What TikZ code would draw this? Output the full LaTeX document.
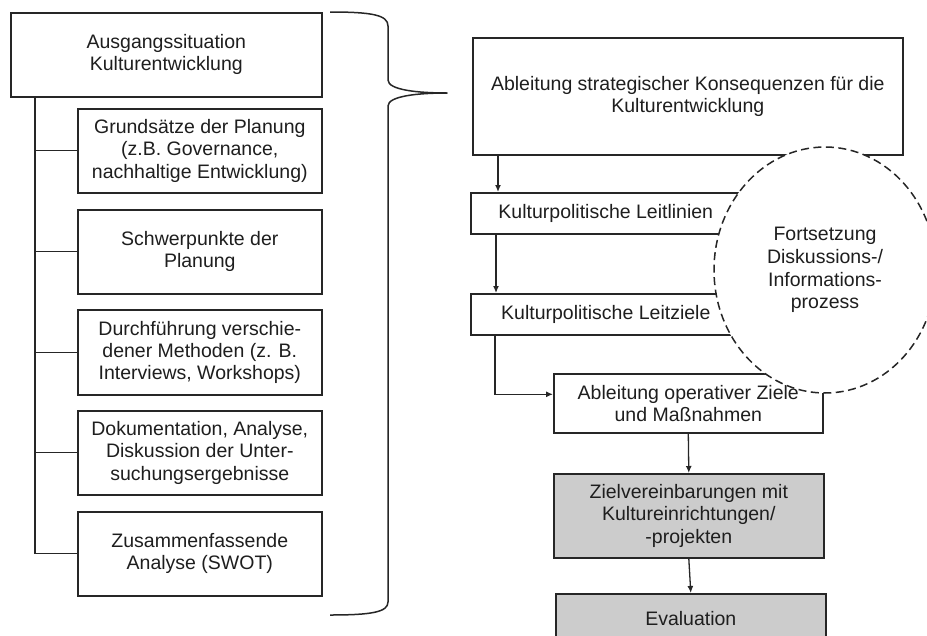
\documentclass[tikz,border=0pt]{standalone}
\usepackage{fontspec}
\setmainfont{Liberation Sans}
\usetikzlibrary{arrows.meta,positioning,shapes.geometric,shadows}
\definecolor{linegray}{HTML}{262626}
\definecolor{boxgray}{HTML}{CCCCCC}
\definecolor{textgray}{HTML}{1E1E1E}

\tikzset{
  box/.style={draw=linegray, line width=1.6pt, fill=white, align=center,
    anchor=north west, inner sep=2pt, text=textgray,
    font=\fontsize{19.5}{22.3}\selectfont,
    drop shadow={opacity=0.18, shadow xshift=0.8pt, shadow yshift=-1.5pt}},
  graybox/.style={box, fill=boxgray},
  link/.style={draw=linegray, line width=1.3pt},
  arr/.style={link, -{Latex[length=7pt,width=6pt]}},
  brace/.style={draw=linegray, line width=1.5pt, line join=round}
}

\begin{document}
\begin{tikzpicture}[x=1pt, y=-1pt]
\useasboundingbox (0,0) rectangle (927,635);
\clip (0,0) rectangle (927,635);
% Left column
\node[box, minimum width=311pt, minimum height=84pt] (start) at (10,12)
  {Ausgangssituation\\Kulturentwicklung};
\node[box, minimum width=244pt, minimum height=84pt] (grund) at (77,108)
  {Grundsätze der Planung\\(z.B. Governance,\\nachhaltige Entwicklung)};
\node[box, minimum width=244pt, minimum height=84pt] (schwer) at (77,209)
  {Schwerpunkte der\\Planung};
\node[box, minimum width=244pt, minimum height=85pt] (durch) at (77,309)
  {Durchführung verschie-\\dener Methoden (z. B.\\Interviews, Workshops)};
\node[box, minimum width=244pt, minimum height=84pt] (doku) at (77,410)
  {Dokumentation, Analyse,\\Diskussion der Unter-\\suchungsergebnisse};
\node[box, minimum width=244pt, minimum height=84pt] (swot) at (77,511)
  {Zusammenfassende\\Analyse (SWOT)};
% Spine
\coordinate (spine) at (35,96);
\draw[link] (spine) -- (spine |- swot.west);
\foreach \n in {grund,schwer,durch,doku,swot}
  \draw[link] (spine |- \n.west) -- (\n.west);
% Brace
\draw[brace] (330,12) .. controls (372,12) and (388,15) .. (388,26)
  -- (388,80) .. controls (388,90) and (418,93) .. (447,93)
  .. controls (418,93) and (388,96) .. (388,106)
  -- (388,602) .. controls (388,612) and (372,615) .. (330,615);
% Right column
\node[box, minimum width=430pt, minimum height=117pt] (strat) at (472,37)
  {Ableitung strategischer Konsequenzen für die\\Kulturentwicklung};
\node[box, minimum width=270pt, minimum height=41pt] (leitlinien) at (470,192)
  {Kulturpolitische Leitlinien};
\node[box, minimum width=270pt, minimum height=41pt] (leitziele) at (470,293)
  {Kulturpolitische Leitziele};
\node[box, minimum width=269pt, minimum height=59pt] (operativ) at (553,373)
  {Ableitung operativer Ziele\\und Maßnahmen};
\node[graybox, minimum width=270pt, minimum height=84pt] (ziel) at (553,473)
  {Zielvereinbarungen mit\\Kultureinrichtungen/\\-projekten};
\node[graybox, minimum width=270pt, minimum height=50pt] (eval) at (555,593)
  {Evaluation};
% Arrows
\draw[arr] ([xshift=26pt]strat.south west) -- ([xshift=26pt]strat.south west |- leitlinien.north);
\draw[arr] ([xshift=26pt]leitlinien.south west) -- ([xshift=26pt]leitlinien.south west |- leitziele.north);
\draw[arr] ([xshift=25pt]leitziele.south west) |- ([yshift=9pt]operativ.west);
\draw[arr] (operativ.south) -- (ziel.north);
\draw[arr] (ziel.south) -- (eval.north);
% Dashed process circle
\node[ellipse, draw=linegray, line width=1.5pt, dash pattern=on 8pt off 4.5pt,
  fill=white, minimum width=222pt, minimum height=246pt, inner sep=0pt,
  align=center, text=textgray, font=\fontsize{19.5}{22.8}\selectfont]
  (prozess) at (825,270)
  {Fortsetzung\\Diskussions-/\\Informations-\\prozess};
\end{tikzpicture}
\end{document}
